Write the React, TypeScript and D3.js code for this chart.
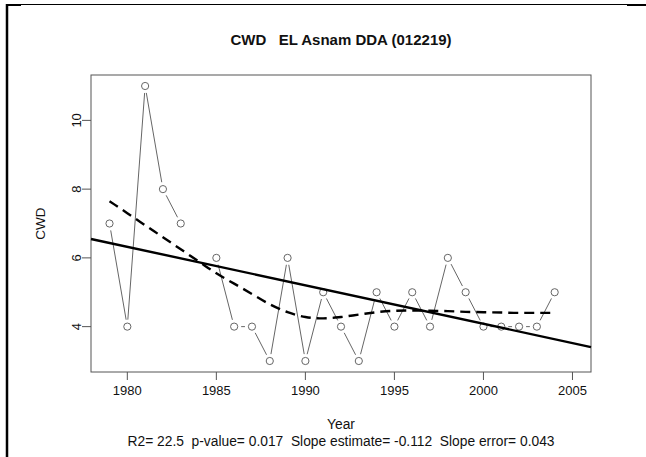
import React, { useEffect, useRef } from "react";
import * as d3 from "d3";

// observed CWD values (1984 missing)
const years = [1979, 1980, 1981, 1982, 1983, 1984, 1985, 1986, 1987, 1988, 1989, 1990, 1991, 1992, 1993, 1994, 1995, 1996, 1997, 1998, 1999, 2000, 2001, 2002, 2003, 2004];
const cwd = [7, 4, 11, 8, 7, null, 6, 4, 4, 3, 6, 3, 5, 4, 3, 5, 4, 5, 4, 6, 5, 4, 4, 4, 4, 5];

// smoothed (loess) curve
const smooth = [7.65, 7.3, 6.95, 6.6, 6.25, 5.9, 5.55, 5.25, 4.95, 4.65, 4.42, 4.28, 4.24, 4.28, 4.35, 4.42, 4.46, 4.47, 4.46, 4.45, 4.43, 4.42, 4.41, 4.4, 4.4, 4.4];

// linear trend
const slope = -0.112;
const meanYear = 1991.8;
const meanCwd = 5.0;

const xTicks = [1980, 1985, 1990, 1995, 2000, 2005];
const yTicks = [4, 6, 8, 10];

const title = "CWD   EL Asnam DDA (012219)";
const subtitle = "R2= 22.5  p-value= 0.017  Slope estimate= -0.112  Slope error= 0.043";

// keep runs of spaces visible in svg text
const keepSpaces = (s: string) => s.replace(/ (?= )/g, "\u00a0");

const App = () => {
  const svgRef = useRef<SVGSVGElement>(null);

  useEffect(() => {
    const width = 646;
    const height = 457;
    const left = 91;
    const right = 591;
    const top = 75;
    const bottom = 372;
    const font = "'Liberation Sans', Arial, sans-serif";

    const svg = d3.select(svgRef.current).attr("width", width).attr("height", height);
    svg.selectAll("*").remove();

    svg.append("rect").attr("width", width).attr("height", height).attr("fill", "#fff");

    // frame of the surrounding table cell
    svg.append("line").attr("x1", 7).attr("x2", width).attr("y1", 4.5).attr("y2", 4.5).attr("stroke", "#000").attr("stroke-width", 1);
    svg.append("line").attr("x1", 7).attr("x2", 21).attr("y1", 5).attr("y2", 5).attr("stroke", "#000").attr("stroke-width", 2);
    svg.append("line").attr("x1", 627).attr("x2", width).attr("y1", 5).attr("y2", 5).attr("stroke", "#000").attr("stroke-width", 2);
    svg.append("line").attr("x1", 7).attr("x2", 7).attr("y1", 4).attr("y2", height).attr("stroke", "#000").attr("stroke-width", 2.5);

    const x = d3.scaleLinear().domain([1977.96, 2006.04]).range([left, right]);
    const y = d3.scaleLinear().domain([2.68, 11.32]).range([bottom, top]);

    const g = svg.append("g").attr("font-family", font).attr("fill", "#111");

    // plot box
    g.append("rect")
      .attr("x", left).attr("y", top)
      .attr("width", right - left).attr("height", bottom - top)
      .attr("fill", "none").attr("stroke", "#555").attr("stroke-width", 1);

    // x axis
    const xa = g.append("g");
    xTicks.forEach((t) => {
      xa.append("line").attr("x1", x(t)).attr("x2", x(t)).attr("y1", bottom).attr("y2", bottom + 8).attr("stroke", "#555");
      xa.append("text").attr("x", x(t)).attr("y", bottom + 23).attr("text-anchor", "middle").attr("font-size", 13).text(t);
    });

    // y axis
    const ya = g.append("g");
    yTicks.forEach((t) => {
      ya.append("line").attr("x1", left - 9).attr("x2", left).attr("y1", y(t)).attr("y2", y(t)).attr("stroke", "#555");
      ya.append("text")
        .attr("transform", `translate(76, ${y(t)}) rotate(-90)`)
        .attr("dy", "0.35em")
        .attr("text-anchor", "middle").attr("font-size", 13).text(t);
    });

    // connecting lines (type "b": gaps around points)
    const pts = years.map((yr, i) => ({ yr, v: cwd[i] }));
    const gap = 7;
    for (let i = 0; i < pts.length - 1; i++) {
      const a = pts[i];
      const b = pts[i + 1];
      if (a.v == null || b.v == null) continue;
      const x1 = x(a.yr), y1 = y(a.v), x2 = x(b.yr), y2 = y(b.v);
      const len = Math.hypot(x2 - x1, y2 - y1);
      if (len <= gap * 2) continue;
      const ux = (x2 - x1) / len, uy = (y2 - y1) / len;
      g.append("line")
        .attr("x1", x1 + ux * gap).attr("y1", y1 + uy * gap)
        .attr("x2", x2 - ux * gap).attr("y2", y2 - uy * gap)
        .attr("stroke", "#666").attr("stroke-width", 1);
    }

    // points
    g.append("g")
      .selectAll("circle")
      .data(pts.filter((d) => d.v != null))
      .join("circle")
      .attr("cx", (d) => x(d.yr))
      .attr("cy", (d) => y(d.v as number))
      .attr("r", 3.6)
      .attr("fill", "#fff")
      .attr("stroke", "#666")
      .attr("stroke-width", 1);

    // trend line across the box
    const trend = (yr: number) => meanCwd + slope * (yr - meanYear);
    const [d0, d1] = x.domain();
    g.append("line")
      .attr("x1", x(d0)).attr("y1", y(trend(d0)))
      .attr("x2", x(d1)).attr("y2", y(trend(d1)))
      .attr("stroke", "#000").attr("stroke-width", 2.4);

    // smoothed curve
    const line = d3
      .line<number>()
      .x((_, i) => x(years[i]))
      .y((d) => y(d))
      .curve(d3.curveMonotoneX);
    g.append("path")
      .datum(smooth)
      .attr("fill", "none")
      .attr("stroke", "#000")
      .attr("stroke-width", 2.4)
      .attr("stroke-dasharray", "10,6")
      .attr("d", line);

    // titles
    g.append("text").attr("x", (left + right) / 2).attr("y", 45).attr("text-anchor", "middle")
      .attr("font-size", 15).attr("font-weight", "bold").text(keepSpaces(title));
    g.append("text")
      .attr("transform", `translate(40, ${(top + bottom) / 2}) rotate(-90)`)
      .attr("dy", "0.35em").attr("text-anchor", "middle").attr("font-size", 13.5).text("CWD");
    g.append("text").attr("x", (left + right) / 2).attr("y", 429).attr("text-anchor", "middle").attr("font-size", 13.8).text("Year");
    g.append("text").attr("x", (left + right) / 2).attr("y", 446).attr("text-anchor", "middle").attr("font-size", 13.8).text(keepSpaces(subtitle));
  }, []);

  return (
    <div style={{ position: "absolute", left: 0, top: 0 }}>
      <svg ref={svgRef}></svg>
    </div>
  );
};

export default App;
